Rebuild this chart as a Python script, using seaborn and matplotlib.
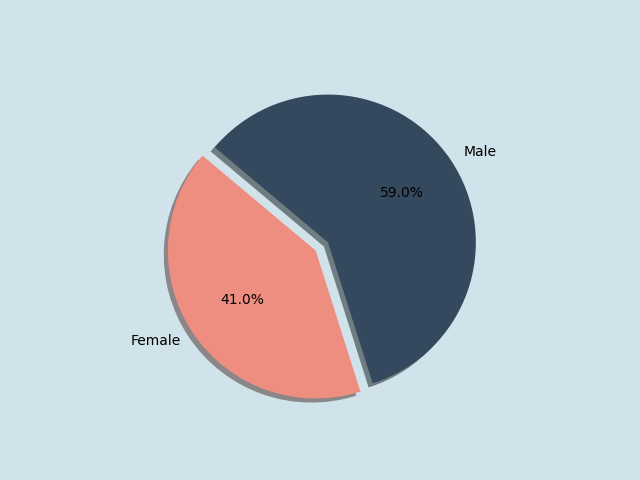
import matplotlib
matplotlib.use("Agg")
import matplotlib.pyplot as plt
import seaborn as sns

labels = ["Male", "Female"]
shares = [59.0, 41.0]
colors = ["#34495e", "#ee8e80"]
explode = [0, 0.1]

bg = "#d0e3ea"
fig, ax = plt.subplots(figsize=(6.4, 4.8), dpi=100)
fig.patch.set_facecolor(bg)
ax.set_facecolor(bg)

ax.pie(shares, labels=labels, colors=colors, explode=explode,
       autopct="%1.1f%%", shadow=True, startangle=140, counterclock=False,
       textprops={"fontsize": 10, "color": "black"},
       wedgeprops={"linewidth": 0})
sns.despine(ax=ax, left=True, bottom=True)

fig.savefig("out.png", dpi=100, facecolor=bg)
